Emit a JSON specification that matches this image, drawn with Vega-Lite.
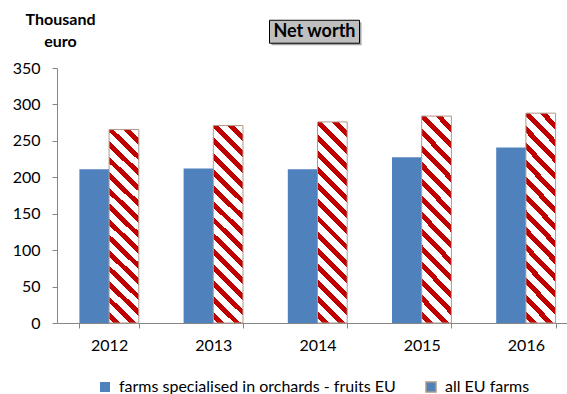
{
  "$schema": "https://vega.github.io/schema/vega-lite/v6.json",
  "autosize": "none",
  "width": 510,
  "height": 255,
  "padding": {"left": 57, "top": 68, "right": 0, "bottom": 71},
  "background": "white",
  "config": {
    "font": "Lato",
    "view": {"stroke": null},
    "axis": {"labelFont": "Lato", "labelFontSize": 16, "labelColor": "#000000", "domainColor": "#868686", "tickColor": "#868686", "tickSize": 5, "grid": false, "labelOverlap": false},
    "axisY": {"tickCount": 7, "labelPadding": 12}
  },
  "data": {"values": [
    {"year": "2012", "series": "farms specialised in orchards - fruits EU", "value": 211},
    {"year": "2012", "series": "all EU farms", "value": 265.5},
    {"year": "2013", "series": "farms specialised in orchards - fruits EU", "value": 212},
    {"year": "2013", "series": "all EU farms", "value": 271},
    {"year": "2014", "series": "farms specialised in orchards - fruits EU", "value": 211},
    {"year": "2014", "series": "all EU farms", "value": 276},
    {"year": "2015", "series": "farms specialised in orchards - fruits EU", "value": 227.5},
    {"year": "2015", "series": "all EU farms", "value": 284},
    {"year": "2016", "series": "farms specialised in orchards - fruits EU", "value": 241},
    {"year": "2016", "series": "all EU farms", "value": 288}
  ]},
  "layer": [
    {
      "mark": {"type": "bar", "strokeWidth": 1},
      "encoding": {
        "x": {"field": "year", "type": "nominal", "scale": {"range": [0, 521], "paddingInner": 0.43, "paddingOuter": 0.215},
          "axis": {"title": null, "labelAngle": 0, "tickBand": "extent", "labelPadding": 9}},
        "xOffset": {"field": "series", "type": "nominal", "sort": ["farms specialised in orchards - fruits EU", "all EU farms"], "scale": {"paddingInner": 0, "paddingOuter": 0}},
        "y": {"field": "value", "type": "quantitative", "scale": {"domain": [0, 350], "nice": false},
          "axis": {"title": ["Thousand", "euro"], "titleAngle": 0, "titleAlign": "center", "titleBaseline": "top", "titleX": 3, "titleY": -57, "titleFont": "Lato", "titleFontSize": 16, "titleFontWeight": "bold", "titleLineHeight": 22, "titleColor": "#000000"}},
        "fill": {
          "condition": {"test": "datum.series === 'all EU farms' || datum.value === 'all EU farms'", "value": {"gradient": "linear", "x1": 0, "y1": 1, "x2": 0.1656, "y2": -0.123, "stops": [
            {"offset": 0, "color": "#ffffff"},
            {"offset": 0.02, "color": "#ffffff"}, {"offset": 0.02, "color": "#c00000"}, {"offset": 0.05, "color": "#c00000"}, {"offset": 0.05, "color": "#ffffff"},
            {"offset": 0.09, "color": "#ffffff"}, {"offset": 0.09, "color": "#c00000"}, {"offset": 0.12, "color": "#c00000"}, {"offset": 0.12, "color": "#ffffff"},
            {"offset": 0.16, "color": "#ffffff"}, {"offset": 0.16, "color": "#c00000"}, {"offset": 0.19, "color": "#c00000"}, {"offset": 0.19, "color": "#ffffff"},
            {"offset": 0.23, "color": "#ffffff"}, {"offset": 0.23, "color": "#c00000"}, {"offset": 0.26, "color": "#c00000"}, {"offset": 0.26, "color": "#ffffff"},
            {"offset": 0.30, "color": "#ffffff"}, {"offset": 0.30, "color": "#c00000"}, {"offset": 0.33, "color": "#c00000"}, {"offset": 0.33, "color": "#ffffff"},
            {"offset": 0.37, "color": "#ffffff"}, {"offset": 0.37, "color": "#c00000"}, {"offset": 0.40, "color": "#c00000"}, {"offset": 0.40, "color": "#ffffff"},
            {"offset": 0.44, "color": "#ffffff"}, {"offset": 0.44, "color": "#c00000"}, {"offset": 0.47, "color": "#c00000"}, {"offset": 0.47, "color": "#ffffff"},
            {"offset": 0.51, "color": "#ffffff"}, {"offset": 0.51, "color": "#c00000"}, {"offset": 0.54, "color": "#c00000"}, {"offset": 0.54, "color": "#ffffff"},
            {"offset": 0.58, "color": "#ffffff"}, {"offset": 0.58, "color": "#c00000"}, {"offset": 0.61, "color": "#c00000"}, {"offset": 0.61, "color": "#ffffff"},
            {"offset": 0.65, "color": "#ffffff"}, {"offset": 0.65, "color": "#c00000"}, {"offset": 0.68, "color": "#c00000"}, {"offset": 0.68, "color": "#ffffff"},
            {"offset": 0.72, "color": "#ffffff"}, {"offset": 0.72, "color": "#c00000"}, {"offset": 0.75, "color": "#c00000"}, {"offset": 0.75, "color": "#ffffff"},
            {"offset": 0.79, "color": "#ffffff"}, {"offset": 0.79, "color": "#c00000"}, {"offset": 0.82, "color": "#c00000"}, {"offset": 0.82, "color": "#ffffff"},
            {"offset": 0.86, "color": "#ffffff"}, {"offset": 0.86, "color": "#c00000"}, {"offset": 0.89, "color": "#c00000"}, {"offset": 0.89, "color": "#ffffff"},
            {"offset": 0.93, "color": "#ffffff"}, {"offset": 0.93, "color": "#c00000"}, {"offset": 0.96, "color": "#c00000"}, {"offset": 0.96, "color": "#ffffff"},
            {"offset": 1, "color": "#ffffff"}
          ]}},
          "value": "#4F81BD"
        },
        "opacity": {"field": "series", "type": "ordinal", "sort": ["farms specialised in orchards - fruits EU", "all EU farms"],
          "scale": {"domain": ["farms specialised in orchards - fruits EU", "all EU farms"], "range": [1, 1]},
          "legend": {"orient": "none", "legendX": 40, "legendY": 311, "direction": "horizontal", "title": null, "symbolType": "square", "symbolSize": 100, "labelFont": "Lato", "labelFontSize": 16, "labelColor": "#000000", "labelOffset": 6, "labelLimit": 500, "columnPadding": 27}
        },
        "stroke": {"condition": {"test": "datum.series === 'all EU farms' || datum.value === 'all EU farms'", "value": "#B09A88"}, "value": null}
      }
    },
    {
      "data": {"values": [{"label": "Net worth"}]},
      "mark": {"type": "rect", "width": 90, "xOffset": -1, "yOffset": 2, "y2Offset": 2, "fill": "#7f7f7f", "opacity": 0.7},
      "encoding": {"x": {"datum": "2014"}, "y": {"datum": 415.5}, "y2": {"datum": 384}}
    },
    {
      "data": {"values": [{"label": "Net worth"}]},
      "mark": {"type": "rect", "width": 90, "xOffset": -3, "fill": "#bfbfbf", "stroke": "#000000", "strokeWidth": 1},
      "encoding": {"x": {"datum": "2014"}, "y": {"datum": 415.5}, "y2": {"datum": 384}}
    },
    {
      "data": {"values": [{"label": "Net worth"}]},
      "mark": {"type": "text", "xOffset": -3, "font": "Lato", "fontSize": 18, "fontWeight": "bold", "color": "#000000", "align": "center", "baseline": "middle"},
      "encoding": {"x": {"datum": "2014"}, "y": {"datum": 400}, "text": {"field": "label"}}
    }
  ]
}
